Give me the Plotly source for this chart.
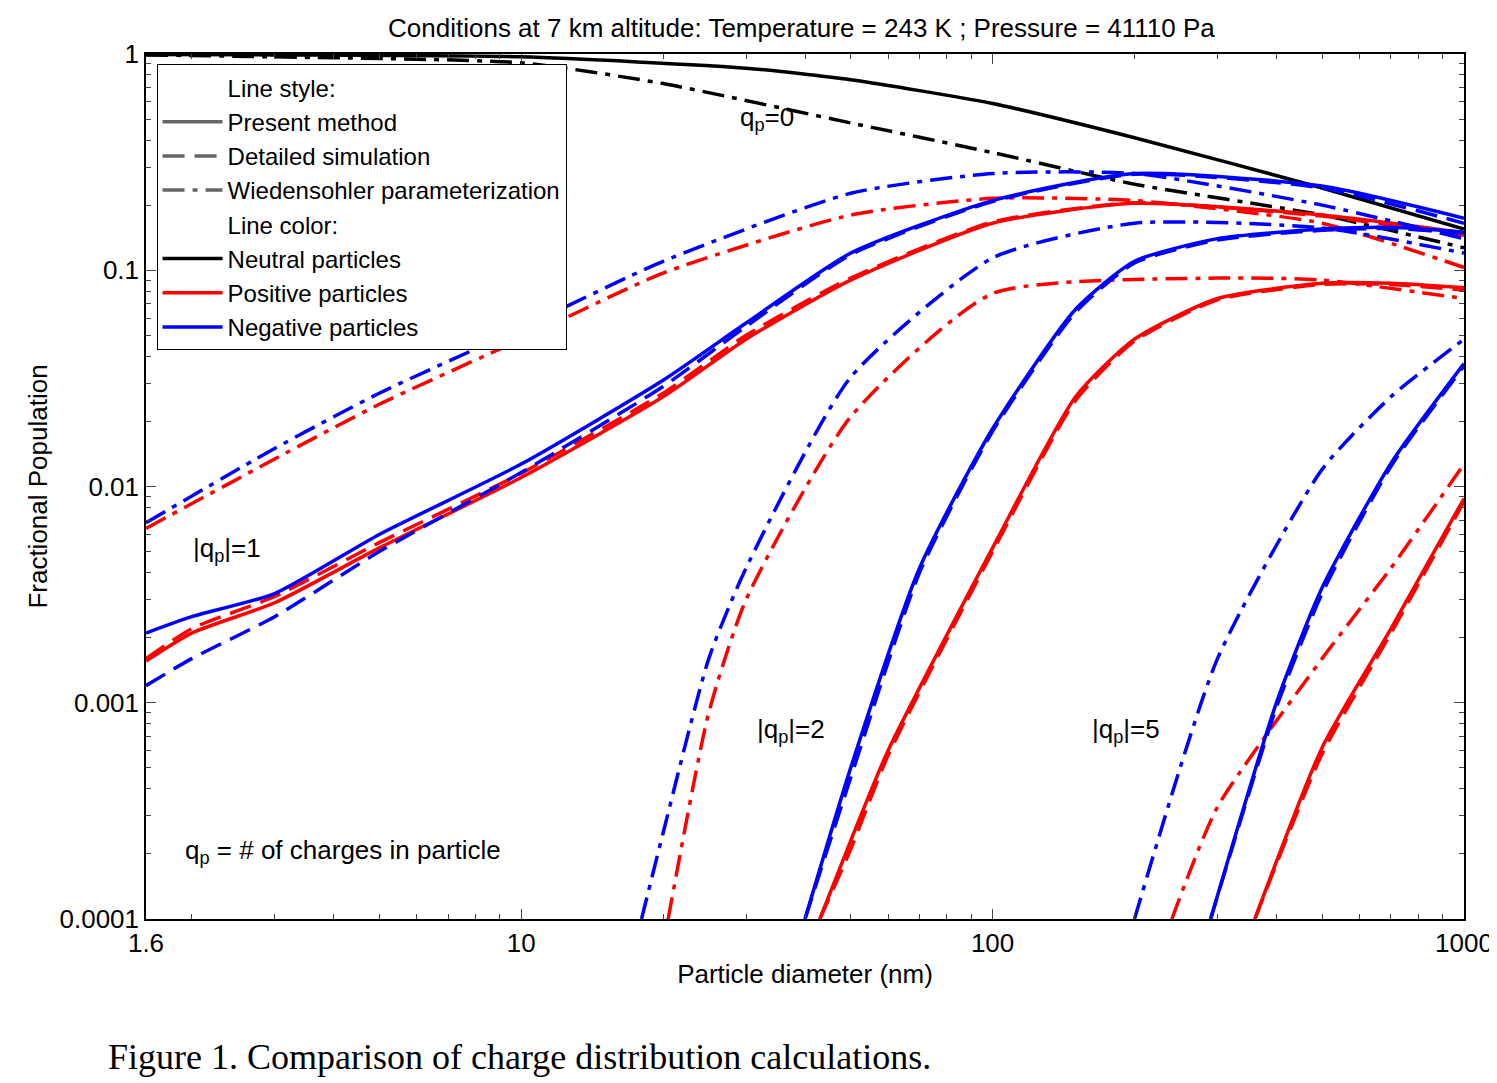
"""Charge distribution comparison chart using Plotly."""

import plotly.graph_objects as go

# Particle diameters (nm) and fractional populations
d_neu = [1.6, 3, 10, 30, 50, 100, 200, 500, 1000]
neu_present = [0.995, 0.99, 0.97, 0.86, 0.76, 0.59, 0.41, 0.24, 0.155]
d_neu_w = [1.6, 3, 10, 20, 50, 100, 200, 500, 1000]
neu_wied = [0.99, 0.97, 0.91, 0.73, 0.48, 0.35, 0.25, 0.18, 0.127]

d_q1 = [1.6, 2, 3, 5, 10, 20, 30, 50, 100, 200, 500, 1000]
pos1_present = [0.00156, 0.0021, 0.0029, 0.0052, 0.011, 0.026, 0.048, 0.09, 0.165, 0.204, 0.18, 0.149]
pos1_detailed = [0.0016, 0.0022, 0.0031, 0.0055, 0.0115, 0.027, 0.05, 0.092, 0.167, 0.205, 0.178, 0.145]
neg1_present = [0.0021, 0.0025, 0.0032, 0.006, 0.0127, 0.031, 0.057, 0.12, 0.21, 0.28, 0.245, 0.174]
neg1_detailed = [0.0012, 0.0016, 0.0025, 0.005, 0.0116, 0.029, 0.055, 0.118, 0.208, 0.278, 0.24, 0.165]
d_q1_w = [1.6, 3, 5, 10, 20, 50, 100, 200, 500, 1000]
neg1_wied = [0.0068, 0.015, 0.027, 0.054, 0.11, 0.227, 0.28, 0.28, 0.2, 0.14]
pos1_wied = [0.0064, 0.0134, 0.024, 0.048, 0.097, 0.18, 0.215, 0.21, 0.165, 0.103]

d_neg2_w = [18, 20, 25, 30, 50, 100, 200, 500, 1000]
neg2_wied = [0.0001, 0.00025, 0.0016, 0.0042, 0.032, 0.114, 0.165, 0.157, 0.12]
d_pos2_w = [20.5, 25, 30, 50, 100, 300, 500, 1000]
pos2_wied = [0.0001, 0.0009, 0.003, 0.021, 0.078, 0.092, 0.09, 0.074]
d_neg2 = [40, 50, 70, 100, 150, 200, 300, 500, 700, 1000]
neg2_present = [0.0001, 0.0005, 0.0042, 0.0185, 0.066, 0.11, 0.14, 0.155, 0.158, 0.15]
neg2_detailed = [0.0001, 0.00045, 0.004, 0.018, 0.064, 0.108, 0.138, 0.153, 0.156, 0.148]
d_pos2 = [43, 50, 60, 100, 150, 200, 300, 500, 700, 1000]
pos2_present = [0.0001, 0.00023, 0.0006, 0.0052, 0.026, 0.048, 0.074, 0.087, 0.087, 0.083]
pos2_detailed = [0.0001, 0.00021, 0.00057, 0.005, 0.025, 0.047, 0.073, 0.086, 0.086, 0.081]

d_neg5_w = [200, 300, 500, 700, 1000]
neg5_wied = [0.0001, 0.0016, 0.012, 0.026, 0.048]
d_pos5_w = [240, 300, 500, 700, 1000]
pos5_wied = [0.0001, 0.00033, 0.0016, 0.0042, 0.0127]
d_neg5 = [290, 400, 500, 700, 1000]
neg5_present = [0.0001, 0.001, 0.0034, 0.0128, 0.037]
neg5_detailed = [0.0001, 0.00095, 0.0032, 0.0124, 0.036]
d_pos5 = [360, 500, 700, 1000]
pos5_present = [0.0001, 0.00062, 0.0022, 0.0088]
pos5_detailed = [0.0001, 0.00058, 0.0021, 0.0085]

DASH = "22px,10px"
DASHDOT = "22px,8px,5px,8px"


def line(x, y, color, dash="solid"):
    """Create a single curve trace."""
    return go.Scatter(
        x=x, y=y, mode="lines",
        line={"color": color, "width": 3.5, "dash": dash, "shape": "spline", "smoothing": 0.6},
        showlegend=False, hoverinfo="skip",
    )


def legend_entry(name, color, dash="solid"):
    """Create a dummy trace that only shows in the legend."""
    return go.Scatter(
        x=[None], y=[None], mode="lines", name=name,
        line={"color": color, "width": 3.5, "dash": dash},
    )


def main():
    """Build the figure and write it out."""
    traces = [
        line(d_neu, neu_present, "black"),
        line(d_neu_w, neu_wied, "black", DASHDOT),
        line(d_q1, pos1_present, "red"),
        line(d_q1, pos1_detailed, "red", DASH),
        line(d_q1_w, pos1_wied, "red", DASHDOT),
        line(d_q1, neg1_present, "blue"),
        line(d_q1, neg1_detailed, "blue", DASH),
        line(d_q1_w, neg1_wied, "blue", DASHDOT),
        line(d_pos2, pos2_present, "red"),
        line(d_pos2, pos2_detailed, "red", DASH),
        line(d_pos2_w, pos2_wied, "red", DASHDOT),
        line(d_neg2, neg2_present, "blue"),
        line(d_neg2, neg2_detailed, "blue", DASH),
        line(d_neg2_w, neg2_wied, "blue", DASHDOT),
        line(d_pos5, pos5_present, "red"),
        line(d_pos5, pos5_detailed, "red", DASH),
        line(d_pos5_w, pos5_wied, "red", DASHDOT),
        line(d_neg5, neg5_present, "blue"),
        line(d_neg5, neg5_detailed, "blue", DASH),
        line(d_neg5_w, neg5_wied, "blue", DASHDOT),
    ]

    # Legend entries
    traces += [
        legend_entry("Line style:", "rgba(0,0,0,0)"),
        legend_entry("Present method", "#666666"),
        legend_entry("Detailed simulation", "#666666", DASH),
        legend_entry("Wiedensohler parameterization", "#666666", DASHDOT),
        legend_entry("Line color:", "rgba(0,0,0,0)"),
        legend_entry("Neutral particles", "black"),
        legend_entry("Positive particles", "red"),
        legend_entry("Negative particles", "blue"),
    ]

    fig = go.Figure(data=traces)

    axis_style = {
        "showline": True, "linecolor": "black", "linewidth": 1.5, "mirror": "ticks",
        "ticks": "inside", "ticklen": 10, "showgrid": False, "zeroline": False,
        "tickfont": {"size": 26}, "title_font": {"size": 26},
    }

    fig.update_xaxes(
        type="log", range=[0.20412, 3], title_text="Particle diameter (nm)", title_standoff=8,
        tickvals=[1.6, 10, 100, 1000], ticktext=["1.6", "10", "100", "1000"],
        minor={"ticks": "inside", "ticklen": 5, "tickvals": [2, 3, 4, 5, 6, 7, 8, 9, 20, 30, 40, 50, 60, 70, 80, 90,
                                                              200, 300, 400, 500, 600, 700, 800, 900]},
        **axis_style,
    )
    fig.update_yaxes(
        type="log", range=[-4, 0], title_text="Fractional Population", title_standoff=4,
        tickvals=[0.0001, 0.001, 0.01, 0.1, 1], ticktext=["0.0001", "0.001", "0.01", "0.1", "1"],
        minor={"ticks": "inside", "ticklen": 5, "dtick": "D1", "showgrid": False},
        **axis_style,
    )

    annotations = [
        ("q<sub>p</sub>=0", 1.46, -0.30),
        ("|q<sub>p</sub>|=1", 0.30, -2.29),
        ("|q<sub>p</sub>|=2", 1.495, -3.13),
        ("|q<sub>p</sub>|=5", 2.206, -3.13),
        ("q<sub>p</sub> = # of charges in particle", 0.282, -3.69),
    ]
    for text, x, y in annotations:
        fig.add_annotation(x=x, y=y, text=text, showarrow=False, xanchor="left", font={"size": 26})

    fig.add_annotation(
        x=-0.03, y=-0.185, xref="paper", yref="paper", xanchor="left", showarrow=False,
        text="Figure 1. Comparison of charge distribution calculations.",
        font={"family": "Liberation Serif", "size": 36},
    )

    fig.update_layout(
        width=1497, height=1083,
        margin={"l": 138, "r": 34, "t": 46, "b": 172},
        title={"text": "Conditions at 7 km altitude: Temperature = 243 K ; Pressure = 41110 Pa",
               "x": 0.53, "y": 0.99, "xanchor": "center", "yanchor": "top", "font": {"size": 26}},
        font={"family": "Liberation Sans", "color": "black"},
        plot_bgcolor="white", paper_bgcolor="white",
        legend={"x": 0.008, "y": 0.988, "bgcolor": "white", "bordercolor": "black", "borderwidth": 1,
                "font": {"size": 24}, "tracegroupgap": 0, "itemwidth": 60},
    )

    fig.write_html("out.html")


if __name__ == "__main__":
    main()
